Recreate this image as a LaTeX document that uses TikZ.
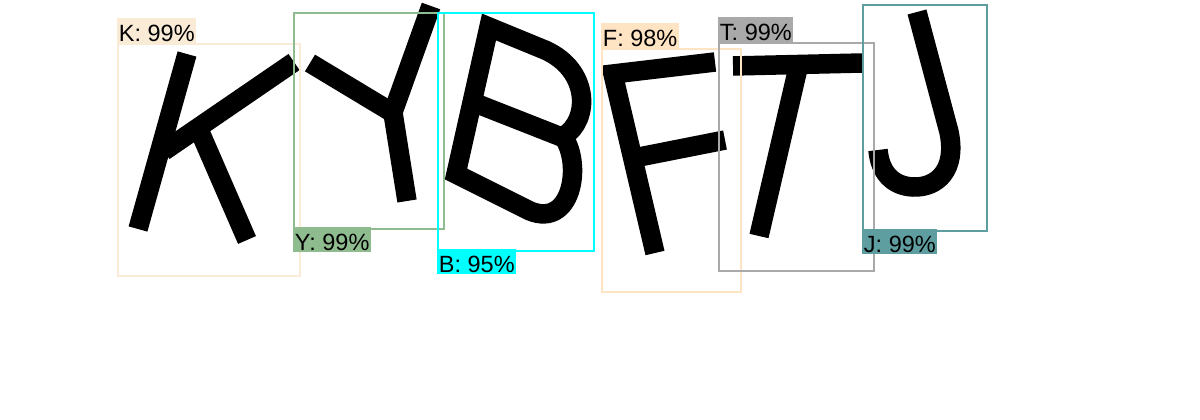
\documentclass[tikz,border=0pt]{standalone}
\usepackage{fontspec}
\setmainfont{Liberation Sans}
\usetikzlibrary{fit}
\definecolor{antiquewhite}{HTML}{FAEBD7}
\definecolor{darkseagreen}{HTML}{8FBC8F}
\definecolor{cyan}{HTML}{00FFFF}
\definecolor{bisque}{HTML}{FFE4C4}
\definecolor{darkgray}{HTML}{A9A9A9}
\definecolor{cadetblue}{HTML}{5F9EA0}

\begin{document}
\begin{tikzpicture}[x=1pt,y=-1pt,font=\fontsize{23.5}{26}\selectfont]
    \tikzstyle{glyph}=[line width=19.5pt,draw=black]
    \tikzstyle{box}=[draw,line width=1.5pt,inner sep=0pt]
    \tikzstyle{tag}=[inner xsep=1.5pt,inner ysep=0pt,text height=23.4pt,text depth=1.6pt]

    \useasboundingbox (0,0) rectangle (1200,420);

    % K
    \draw[glyph] (187,54) -- (138,229);
    \draw[glyph] (164,151) -- (294,62);
    \draw[glyph] (200,132) -- (247,240);
    % Y
    \draw[glyph] (310,63) -- (393,113) -- (407,201);
    \draw[glyph] (431,6) -- (393,112);
    % B
    \draw[glyph] (564,136) .. controls (590,120) and (590,70) .. (545,50) -- (489,27) -- (456,174) -- (530,211)
        .. controls (572,228) and (582,165) .. (564,138) -- (475,103);
    % F
    \draw[glyph] (715,62) -- (613,74) -- (655,253);
    \draw[glyph] (634,158) -- (725,140);
    % T
    \draw[glyph] (733,66) -- (862,63);
    \draw[glyph] (798,68) -- (759,236);
    % J
    \draw[glyph] (917,12) -- (949,132) .. controls (957,170) and (937,188) .. (913,187)
        .. controls (892,186) and (880,172) .. (878,150);

    \foreach \name/\col/\xa/\ya/\xb/\yb in {K/antiquewhite/118/44/300/276, Y/darkseagreen/294/13/444/229,
            B/cyan/438/13/594/251, F/bisque/602/49/741/292, T/darkgray/719/43/874/271, J/cadetblue/863/5/987/231}
        \node[box,draw=\col,fit={(\xa,\ya) (\xb,\yb)}] (box-\name) {};

    \foreach \name/\col/\score in {K/antiquewhite/99,F/bisque/98,T/darkgray/99}
        \node[tag,fill=\col,anchor=south west] (tag-\name) at (box-\name.north west) {\name: \score\%};
    \foreach \name/\col/\score in {Y/darkseagreen/99,B/cyan/95,J/cadetblue/99}
        \node[tag,fill=\col,anchor=north west] (tag-\name) at ([yshift=2.5pt]box-\name.south west) {\name: \score\%};
\end{tikzpicture}
\end{document}
